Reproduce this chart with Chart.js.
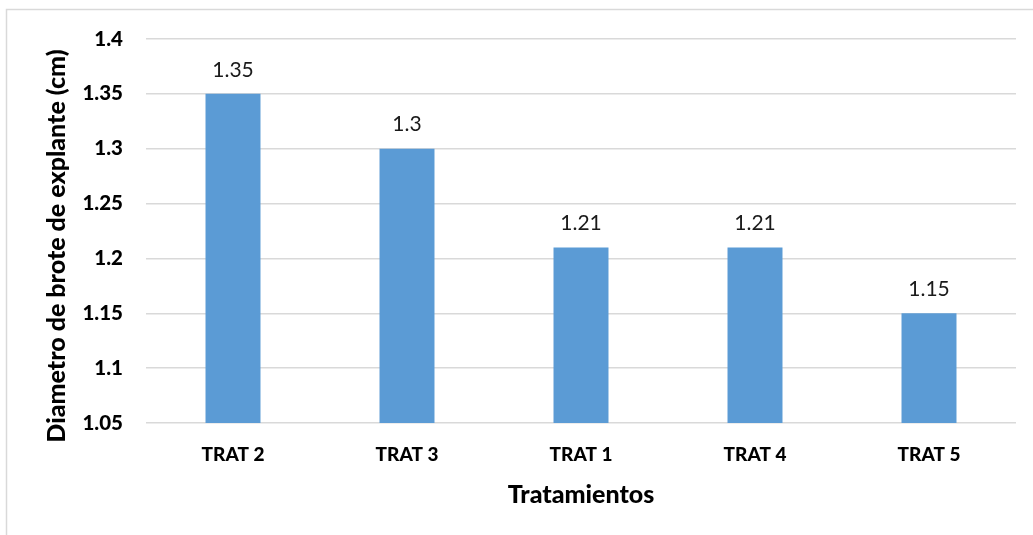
<!DOCTYPE html>
<html>
<head>
<meta charset="utf-8">
<script src="https://cdn.jsdelivr.net/npm/chart.js@4/dist/chart.umd.min.js"></script>
<style>
  html, body { margin: 0; padding: 0; background: #fff; }
  #wrap { width: 1033px; height: 535px; position: relative; }
</style>
</head>
<body>
<div id="wrap"><canvas id="c" width="1033" height="535"></canvas></div>
<script>
// Treatments ordered by mean explant shoot diameter
const categories = ['TRAT 2', 'TRAT 3', 'TRAT 1', 'TRAT 4', 'TRAT 5'];
const diameters = [1.35, 1.30, 1.21, 1.21, 1.15];
const yTicks = [1.05, 1.1, 1.15, 1.2, 1.25, 1.3, 1.35, 1.4];

const FONT = 'Lato, "Open Sans", sans-serif';
const yTitle = 'Diametro de brote de explante (cm)';

// Light frame along the top and left edges of the chart
const framePlugin = {
  id: 'frame',
  beforeDraw(chart) {
    const ctx = chart.ctx;
    ctx.save();
    ctx.strokeStyle = '#d9d9d9';
    ctx.lineWidth = 1.5;
    ctx.beginPath();
    ctx.moveTo(6.5, chart.height);
    ctx.lineTo(6.5, 9.5);
    ctx.lineTo(chart.width, 9.5);
    ctx.stroke();
    ctx.restore();
  }
};

// Value labels above each bar and the rotated y-axis title
const labelPlugin = {
  id: 'labels',
  afterDatasetsDraw(chart) {
    const ctx = chart.ctx;
    const meta = chart.getDatasetMeta(0);
    ctx.save();
    ctx.fillStyle = '#1a1a1a';
    ctx.font = '21px ' + FONT;
    ctx.textAlign = 'center';
    ctx.textBaseline = 'middle';
    meta.data.forEach((bar, i) => {
      ctx.fillText(String(diameters[i]), bar.x, bar.y - 24);
    });
    ctx.restore();

    ctx.save();
    ctx.fillStyle = '#000';
    ctx.font = '900 25px ' + FONT;
    ctx.textAlign = 'center';
    ctx.textBaseline = 'middle';
    ctx.translate(57, 246);
    ctx.rotate(-Math.PI / 2);
    ctx.fillText(yTitle, 0, 0);
    ctx.restore();
  }
};

new Chart(document.getElementById('c'), {
  type: 'bar',
  data: {
    labels: categories,
    datasets: [{
      data: diameters,
      backgroundColor: '#5b9bd5',
      borderWidth: 0,
      categoryPercentage: 1,
      barPercentage: 0.316
    }]
  },
  options: {
    responsive: false,
    animation: false,
    events: [],
    layout: { padding: { left: 0, right: 17, top: 39, bottom: 0 } },
    plugins: { legend: { display: false }, tooltip: { enabled: false } },
    scales: {
      x: {
        grid: { display: false, drawTicks: false },
        border: { display: false },
        ticks: { color: '#000', font: { family: FONT, size: 19, weight: '900' }, padding: 20 },
        title: {
          display: true,
          text: 'Tratamientos',
          color: '#000',
          font: { family: FONT, size: 25, weight: '900' },
          padding: { top: 0, bottom: 25 }
        },
        afterFit(scale) { scale.height = 112; }
      },
      y: {
        min: 1.05,
        max: 1.4,
        afterBuildTicks(scale) { scale.ticks = yTicks.map(v => ({ value: v })); },
        grid: { color: '#d9d9d9', lineWidth: 1.5, drawTicks: false },
        border: { display: false },
        ticks: {
          color: '#000',
          font: { family: FONT, size: 20.5, weight: '900' },
          padding: 23,
          callback: v => String(Math.round(v * 100) / 100)
        },
        afterFit(scale) { scale.width = 146; }
      }
    }
  },
  plugins: [framePlugin, labelPlugin]
});
</script>
</body>
</html>
